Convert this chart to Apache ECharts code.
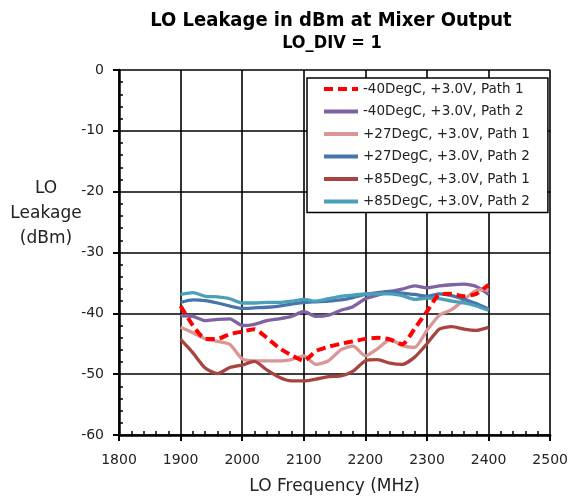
<!DOCTYPE html>
<html><head><meta charset="utf-8">
<script src="https://cdn.jsdelivr.net/npm/echarts@6/dist/echarts.min.js"></script>
<style>html,body{margin:0;padding:0;background:#fff}#c{width:571px;height:500px}</style>
</head><body><div id="c"></div>
<script>
const freq = [1900,1920,1940,1960,1980,2000,2020,2040,2060,2080,2100,2120,2140,2160,2180,2200,2220,2240,2260,2280,2300,2320,2340,2360,2380,2400];
const m40p1 = [-38.8,-42.0,-44.2,-44.2,-43.4,-43.0,-42.6,-44.0,-45.7,-46.9,-47.8,-46.2,-45.5,-45.0,-44.6,-44.2,-44.0,-44.3,-45.1,-42.5,-39.7,-36.9,-36.8,-37.2,-36.8,-35.3];
const m40p2 = [-40.4,-40.5,-41.2,-41.0,-40.9,-42.0,-41.8,-41.2,-40.9,-40.5,-39.7,-40.5,-40.3,-39.5,-38.9,-37.6,-37.0,-36.4,-36.0,-35.5,-35.8,-35.5,-35.3,-35.2,-35.6,-36.9];
const p27p1 = [-42.3,-43.2,-44.2,-44.6,-45.1,-47.5,-47.8,-47.8,-47.8,-47.6,-47.0,-48.4,-47.8,-46.0,-45.4,-47.0,-45.8,-44.3,-45.3,-45.6,-42.8,-40.3,-39.4,-37.8,-36.2,-36.1];
const p27p2 = [-38.2,-37.8,-37.9,-38.3,-38.8,-39.2,-39.1,-39.0,-38.8,-38.5,-38.2,-38.1,-38.0,-37.8,-37.4,-36.9,-36.6,-36.4,-36.7,-36.9,-37.2,-36.8,-37.1,-37.7,-38.4,-39.3];
const p85p1 = [-44.3,-46.5,-49.0,-49.9,-48.9,-48.5,-47.9,-49.3,-50.5,-51.1,-51.1,-50.8,-50.4,-50.3,-49.5,-47.8,-47.6,-48.2,-48.4,-47.2,-45.0,-42.6,-42.2,-42.6,-42.8,-42.3];
const p85p2 = [-36.9,-36.6,-37.2,-37.3,-37.6,-38.3,-38.3,-38.2,-38.2,-38.0,-37.7,-38.0,-37.6,-37.2,-37.0,-36.8,-36.8,-36.8,-37.1,-37.7,-37.5,-37.6,-38.0,-38.3,-38.8,-39.5];
const seriesNames = ['-40DegC, +3.0V, Path 1','-40DegC, +3.0V, Path 2','+27DegC, +3.0V, Path 1','+27DegC, +3.0V, Path 2','+85DegC, +3.0V, Path 1','+85DegC, +3.0V, Path 2'];
const seriesValues = [m40p1, m40p2, p27p1, p27p2, p85p1, p85p2];
const colors = ['#FF0000','#7E62A1','#D99694','#4874AC','#A84440','#4AA0B8'];
const xTicks = {min:1800, max:2500, step:100};
const yTicks = {min:-60, max:0, step:10};

const chart = echarts.init(document.getElementById('c'), null, {renderer:'canvas'});
const FONT = 'DejaVu Sans';
const series = seriesNames.map((n, i) => ({
  name: n, type: 'line', symbol: 'none', smooth: 0.2,
  xAxisIndex: 0, yAxisIndex: 0,
  z: i === 0 ? 10 : 3,
  data: freq.map((f, k) => [f, seriesValues[i][k]]),
  lineStyle: {color: colors[i], width: i === 0 ? 4 : 3.3, type: i === 0 ? [9, 5] : 'solid'},
  itemStyle: {color: colors[i]}
}));
const commonX = {type:'value', min:xTicks.min, max:xTicks.max, interval:xTicks.step};
const commonY = {type:'value', min:yTicks.min, max:yTicks.max, interval:yTicks.step};
chart.setOption({
  animation: false,
  backgroundColor: '#fff',
  title: [
    {text:'LO Leakage in dBm at Mixer Output', left:331, top:11, textAlign:'center', padding:0,
     textStyle:{fontFamily:'DejaVu Sans Condensed', fontWeight:'bold', fontSize:20, lineHeight:20, color:'#000'}},
    {text:'LO_DIV = 1', left:332, top:34, textAlign:'center', padding:0,
     textStyle:{fontFamily:'DejaVu Sans Condensed', fontWeight:'bold', fontSize:18, lineHeight:18, color:'#000'}}
  ],
  grid: {left:119, right:20, top:70, bottom:64, containLabel:false},
  legend: {
    orient:'vertical', left:307, top:78, itemWidth:34, itemHeight:14, itemGap:8.5,
    padding:[4,18,4,15], backgroundColor:'#fff', borderColor:'#000', borderWidth:1.5,
    itemStyle:{opacity:0},
    lineStyle:{width:4},
    textStyle:{fontFamily:FONT, fontSize:13.5, color:'#222', lineHeight:14},
    data: seriesNames
  },
  xAxis: [
    Object.assign({}, commonX, {
      position:'bottom',
      name:'LO Frequency (MHz)', nameLocation:'middle', nameGap:43,
      nameTextStyle:{fontFamily:FONT, fontSize:17, color:'#222'},
      axisLine:{onZero:false, lineStyle:{color:'#000', width:2.5}},
      axisTick:{show:true, inside:false, length:6, lineStyle:{color:'#000', width:2}},
      axisLabel:{fontFamily:FONT, fontSize:14, color:'#222', margin:18, formatter: v => String(v)},
      splitLine:{show:true, lineStyle:{color:'#000', width:1.6}}
    }),
    Object.assign({}, commonX, {
      position:'bottom',
      axisLine:{show:false, onZero:false}, axisLabel:{show:false},
      axisTick:{show:false, inside:true},
      minorTick:{show:true, splitNumber:5, length:4, lineStyle:{color:'#000', width:1.5}},
      splitLine:{show:false}
    })
  ],
  yAxis: [
    Object.assign({}, commonY, {
      position:'left',
      axisLine:{onZero:false, lineStyle:{color:'#000', width:2.5}},
      axisTick:{show:true, inside:false, length:6, lineStyle:{color:'#000', width:2}},
      axisLabel:{fontFamily:FONT, fontSize:14, color:'#222', margin:15, formatter: v => String(v)},
      splitLine:{show:true, lineStyle:{color:'#000', width:1.6}}
    }),
    Object.assign({}, commonY, {
      position:'left',
      axisLine:{show:false, onZero:false}, axisLabel:{show:false},
      axisTick:{show:false, inside:true},
      minorTick:{show:true, splitNumber:5, length:4, lineStyle:{color:'#000', width:1.5}},
      splitLine:{show:false}
    })
  ],
  graphic: [
    {type:'text', x:46, y:214, style:{
      text:'LO\nLeakage\n(dBm)', align:'center', verticalAlign:'middle',
      font:'17px "DejaVu Sans"', fill:'#222', lineHeight:25}}
  ],
  series: series
});
</script>
</body></html>
